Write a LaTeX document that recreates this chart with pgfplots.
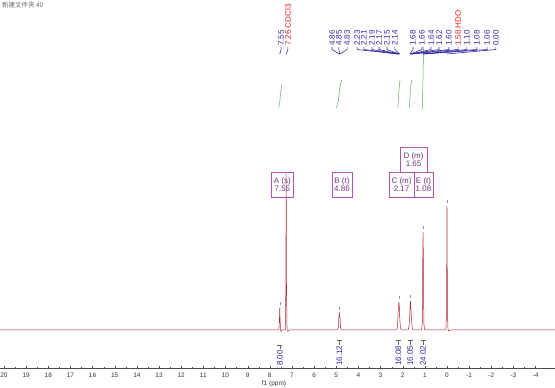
\documentclass[border=0pt]{standalone}
\usepackage{pgfplots}
\pgfplotsset{compat=1.18}
\usepackage{fontspec}
\setmainfont{Liberation Sans}
\newfontfamily\cjk{Noto Sans CJK SC}
\definecolor{spec}{RGB}{170,40,50}
\definecolor{lblue}{RGB}{50,40,160}
\definecolor{lred}{RGB}{230,30,30}
\definecolor{igreen}{RGB}{100,170,100}
\definecolor{boxc}{RGB}{180,80,180}
\definecolor{boxt}{RGB}{110,50,130}
\newcommand\lab{\fontsize{8}{8}\selectfont}
\newcommand\pk[4]{%
  \node[rotate=90, anchor=west, font=\lab, text=#4, inner sep=0pt] at (axis cs:#1,322) {#3};
  \draw[lblue, line width=0.6pt] (axis cs:#1,321) -- (axis cs:#1,318.5) -- (axis cs:#2,314);}
\newcommand\ig[3]{%
  \node[rotate=90, anchor=west, font=\lab, text=lblue, inner sep=0pt, name=#3] at (axis cs:#1,2) {#2};
  \draw[igreen!70!black, line width=0.5pt] ([xshift=-2.5pt,yshift=5pt]#3.east) -- ([xshift=2.5pt,yshift=5pt]#3.east);
  \draw[igreen!70!black, line width=0.5pt] ([yshift=5pt]#3.east) -- ([yshift=1pt]#3.east);}
\begin{document}
\begin{tikzpicture}
\begin{axis}[at={(0,0)}, anchor=south west, scale only axis, width=555pt, height=388pt,
  xmin=-4.876, xmax=20.18, ymin=-20, ymax=368, x dir=reverse,
  axis x line=middle, axis y line=none, axis line style={-, black!70},
  xtick={-4,...,20}, minor x tick num=1, ytick=\empty, clip=false,
  tick style={black!70}, major tick length=3pt, minor tick length=2pt,
  hide obscured x ticks=false,
  x tick label style={font=\fontsize{6.5}{6.5}\selectfont, text=black!80},
  /pgf/number format/assume math mode=true]
% spectrum
\addplot[spec, line width=0.5pt] coordinates {
 (20.18,38) (7.65,38) (7.59,38.3) (7.565,48) (7.55,60) (7.535,48) (7.51,38) (7.49,36.5) (7.45,38)
 (7.30,38) (7.275,80) (7.26,194) (7.245,80) (7.22,37) (7.18,36.8) (7.12,38)
 (4.96,38) (4.91,40) (4.885,50) (4.86,55) (4.85,53) (4.83,50) (4.81,41) (4.77,38)
 (2.28,38) (2.24,40) (2.21,52) (2.19,62) (2.17,66) (2.15,61) (2.13,49) (2.10,40) (2.06,38)
 (1.75,38) (1.71,42) (1.68,53) (1.66,65) (1.65,67) (1.63,60) (1.60,48) (1.57,40) (1.53,38)
 (1.15,38) (1.115,45) (1.095,108) (1.08,136) (1.065,108) (1.045,45) (1.01,38)
 (0.05,38) (0.02,55) (0.00,162) (-0.02,55) (-0.05,37) (-0.10,37.5) (-0.16,38) (-4.876,38)};
% peak-pick markers
\addplot[only marks, mark=|, mark size=1.5pt, color=gray!50!blue!60] coordinates {
 (7.55,64) (4.86,59) (2.17,70) (1.65,71) (1.08,140) (0,166)};
% integral curves
\addplot[igreen, smooth, line width=0.5pt] coordinates {(7.60,260) (7.55,266) (7.51,276) (7.45,283)};
\addplot[igreen, smooth, line width=0.5pt] coordinates {(5.00,260) (4.90,268) (4.84,280) (4.75,288)};
\addplot[igreen, smooth, line width=0.5pt] coordinates {(2.22,260) (2.19,270) (2.16,280) (2.12,288)};
\addplot[igreen, smooth, line width=0.5pt] coordinates {(1.70,260) (1.67,270) (1.64,280) (1.60,288)};
\addplot[igreen, smooth, line width=0.5pt] coordinates {(1.12,258) (1.09,280) (1.07,305) (1.05,321)};
% peak labels
\pk{7.49}{7.55}{7.55}{lblue}
\pk{7.18}{7.26}{7.26 CDCl3}{lred}
\pk{5.19}{4.86}{4.86}{lblue}
\pk{4.88}{4.85}{4.85}{lblue}
\pk{4.51}{4.83}{4.83}{lblue}
\pk{4.06}{2.23}{2.23}{lblue}
\pk{3.75}{2.21}{2.21}{lblue}
\pk{3.39}{2.19}{2.19}{lblue}
\pk{3.07}{2.17}{2.17}{lblue}
\pk{2.71}{2.15}{2.15}{lblue}
\pk{2.35}{2.14}{2.14}{lblue}
\pk{1.535}{1.68}{1.68}{lblue}
\pk{1.13}{1.66}{1.66}{lblue}
\pk{0.72}{1.64}{1.64}{lblue}
\pk{0.36}{1.62}{1.62}{lblue}
\pk{-0.09}{1.60}{1.60}{lblue}
\pk{-0.50}{1.58}{1.58 HDO}{lred}
\pk{-0.90}{1.10}{1.10}{lblue}
\pk{-1.35}{1.08}{1.08}{lblue}
\pk{-1.81}{1.06}{1.06}{lblue}
\pk{-2.21}{0.00}{0.00}{lblue}
% integrals
\ig{7.55}{8.00}{ia}
\ig{4.86}{16.12}{ib}
\ig{2.20}{16.08}{ic}
\ig{1.66}{16.05}{id}
\ig{1.08}{24.02}{ie}
% multiplet boxes
\node[draw=boxc, text=boxt, font=\lab, align=center, minimum width=21.6pt, minimum height=25pt, inner sep=1pt, line width=0.6pt] at (axis cs:7.43,183.5) {A (s)\\7.55};
\node[draw=boxc, text=boxt, font=\lab, align=center, minimum width=20pt, minimum height=25pt, inner sep=1pt, line width=0.6pt] at (axis cs:4.74,183.5) {B (t)\\4.86};
\node[draw=boxc, text=boxt, font=\lab, align=center, minimum width=25pt, minimum height=25pt, inner sep=1pt, line width=0.6pt] at (axis cs:2.05,183.5) {C (m)\\2.17};
\node[draw=boxc, text=boxt, font=\lab, align=center, minimum width=19pt, minimum height=25pt, inner sep=1pt, line width=0.6pt] at (axis cs:1.06,183.5) {E (t)\\1.08};
\node[draw=boxc, text=boxt, font=\lab, align=center, minimum width=27pt, minimum height=25pt, inner sep=1pt, line width=0.6pt] at (axis cs:1.51,208.5) {D (m)\\1.65};
% title and axis label
\node[anchor=north west, font=\cjk\fontsize{6.5}{6.5}\selectfont, text=black!60, inner sep=0pt] at (axis cs:20.09,366) {新建文件夹 40};
\node[font=\fontsize{6.5}{6.5}\selectfont, text=black!80] at (axis cs:7.81,-16) {f1 (ppm)};
\end{axis}
\pgfresetboundingbox
\path[use as bounding box] (0,0) rectangle (555pt,388pt);
\end{tikzpicture}
\end{document}
